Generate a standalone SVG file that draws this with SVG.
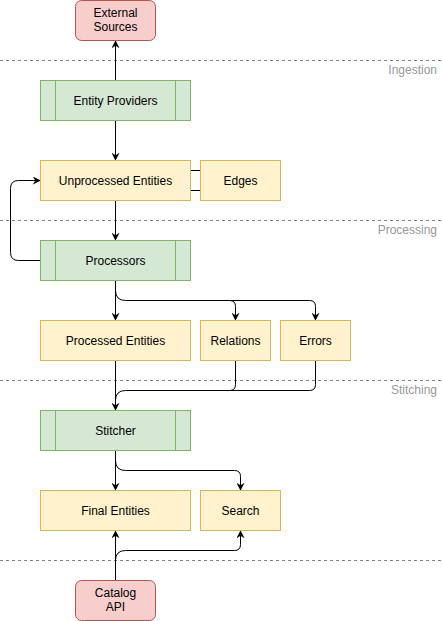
<svg xmlns="http://www.w3.org/2000/svg" width="442" height="621" viewBox="0 0 442 621">
<style>
.red{fill:#f8cecc;stroke:#b85450;stroke-width:1}
.green{fill:#d5e8d4;stroke:#82b366;stroke-width:1}
.yellow{fill:#fff2cc;stroke:#d6b656;stroke-width:1}
.t{font-family:"Liberation Sans",Arial,sans-serif;font-size:12px;fill:#000;text-anchor:middle}
.lbl{font-family:"Liberation Sans",Arial,sans-serif;font-size:12px;fill:#999999;text-anchor:end}
.sep{stroke:#808080;stroke-width:1;stroke-dasharray:3 3;fill:none}
.e{fill:none;stroke:#000;stroke-width:1}
.ea{fill:none;stroke:#000;stroke-width:1;marker-end:url(#arr)}
</style>
<defs>
<marker id="arr" viewBox="0 0 10 10" refX="9" refY="5" markerWidth="8" markerHeight="8" markerUnits="userSpaceOnUse" orient="auto">
<path d="M0,0 L10,5 L0,10 L3,5 Z" fill="#000"/>
</marker>
</defs>
<g id="separators">
<line class="sep" x1="0" y1="60.5" x2="442" y2="60.5"/>
<line class="sep" x1="0" y1="220.5" x2="442" y2="220.5"/>
<line class="sep" x1="0" y1="380.5" x2="442" y2="380.5"/>
<line class="sep" x1="0" y1="560.5" x2="442" y2="560.5"/>
<text class="lbl" x="437" y="74">Ingestion</text>
<text class="lbl" x="437" y="234">Processing</text>
<text class="lbl" x="437" y="394">Stitching</text>
</g>
<g id="connectors">
<path class="ea" d="M115.5,80.5 V41"/>
<path class="ea" d="M115.5,120.5 V160"/>
<path class="e" d="M190.5,170.5 H200.5 M190.5,190.5 H200.5"/>
<path class="ea" d="M115.5,200.5 V240"/>
<path class="ea" d="M40.5,260.5 H18.5 Q10.5,260.5 10.5,252.5 V188.5 Q10.5,180.5 18.5,180.5 H40"/>
<path class="ea" d="M115.5,280.5 V320"/>
<path class="ea" d="M115.5,290.5 Q115.5,300.5 125.5,300.5 H229.5 Q235.5,300.5 235.5,306.5 V320"/>
<path class="ea" d="M229.5,300.5 H309.5 Q315.5,300.5 315.5,306.5 V320"/>
<path class="ea" d="M115.5,360.5 V410"/>
<path class="e" d="M235.5,360.5 V384.5 Q235.5,390.5 229.5,390.5 H125.5 Q115.5,390.5 115.5,400.5"/>
<path class="e" d="M315.5,360.5 V384.5 Q315.5,390.5 309.5,390.5 H229.5"/>
<path class="ea" d="M115.5,450.5 V490"/>
<path class="ea" d="M115.5,460.5 Q115.5,470.5 125.5,470.5 H234.5 Q240.5,470.5 240.5,476.5 V490"/>
<path class="ea" d="M115.5,580.5 V531"/>
<path class="ea" d="M115.5,560.5 Q115.5,550.5 125.5,550.5 H234.5 Q240.5,550.5 240.5,544.5 V531"/>
</g>
<g id="external-sources">
<rect class="red" x="75.5" y="0.5" width="80" height="40" rx="6" ry="6"/>
<text class="t" x="115.5" y="17">External</text>
<text class="t" x="115.5" y="31">Sources</text>
</g>
<g id="entity-providers">
<rect class="green" x="40.5" y="80.5" width="150" height="40"/>
<line class="green" x1="55.5" y1="80.5" x2="55.5" y2="120.5"/>
<line class="green" x1="175.5" y1="80.5" x2="175.5" y2="120.5"/>
<text class="t" x="115.5" y="104.5">Entity Providers</text>
</g>
<g id="unprocessed-entities">
<rect class="yellow" x="40.5" y="160.5" width="150" height="40"/>
<text class="t" x="115.5" y="184.5">Unprocessed Entities</text>
</g>
<g id="edges">
<rect class="yellow" x="200.5" y="160.5" width="80" height="40"/>
<text class="t" x="240.5" y="184.5">Edges</text>
</g>
<g id="processors">
<rect class="green" x="40.5" y="240.5" width="150" height="40"/>
<line class="green" x1="55.5" y1="240.5" x2="55.5" y2="280.5"/>
<line class="green" x1="175.5" y1="240.5" x2="175.5" y2="280.5"/>
<text class="t" x="115.5" y="264.5">Processors</text>
</g>
<g id="processed-entities">
<rect class="yellow" x="40.5" y="320.5" width="150" height="40"/>
<text class="t" x="115.5" y="344.5">Processed Entities</text>
</g>
<g id="relations">
<rect class="yellow" x="200.5" y="320.5" width="70" height="40"/>
<text class="t" x="235.5" y="344.5">Relations</text>
</g>
<g id="errors">
<rect class="yellow" x="280.5" y="320.5" width="70" height="40"/>
<text class="t" x="315.5" y="344.5">Errors</text>
</g>
<g id="stitcher">
<rect class="green" x="40.5" y="410.5" width="150" height="40"/>
<line class="green" x1="55.5" y1="410.5" x2="55.5" y2="450.5"/>
<line class="green" x1="175.5" y1="410.5" x2="175.5" y2="450.5"/>
<text class="t" x="115.5" y="434.5">Stitcher</text>
</g>
<g id="final-entities">
<rect class="yellow" x="40.5" y="490.5" width="150" height="40"/>
<text class="t" x="115.5" y="514.5">Final Entities</text>
</g>
<g id="search">
<rect class="yellow" x="200.5" y="490.5" width="80" height="40"/>
<text class="t" x="240.5" y="514.5">Search</text>
</g>
<g id="catalog-api">
<rect class="red" x="75.5" y="580.5" width="80" height="40" rx="6" ry="6"/>
<text class="t" x="115.5" y="597">Catalog</text>
<text class="t" x="115.5" y="611">API</text>
</g>
</svg>
